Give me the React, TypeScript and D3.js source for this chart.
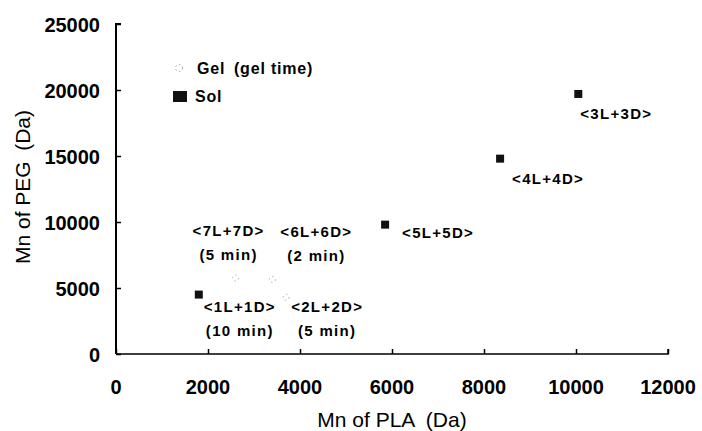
import React, { useRef, useEffect } from 'react';
import * as d3 from 'd3';

// Sol samples (black squares)
const solNames = ['<1L+1D>', '<5L+5D>', '<4L+4D>', '<3L+3D>'];
const solTimes = ['(10 min)', '', '', ''];
const solPLA = [1800, 5850, 8350, 10050];
const solPEG = [4500, 9800, 14800, 19700];

// Gel samples (faint open markers) with gel time
const gelNames = ['<7L+7D>', '<6L+6D>', '<2L+2D>'];
const gelTimes = ['(5 min)', '(2 min)', '(5 min)'];
const gelPLA = [2600, 3400, 3700];
const gelPEG = [5750, 5650, 4300];

const xTicks = [0, 2000, 4000, 6000, 8000, 10000, 12000];
const yTicks = [0, 5000, 10000, 15000, 20000, 25000];

// label centre offsets in pixels from the point (layout only)
const solLabelOffset = [
    [41, 17],
    [53, 13],
    [48, 25],
    [38, 25],
];
const gelLabelOffset = [
    [-7, -42],
    [44, -42],
    [41, 15],
];

const font = "'Liberation Sans', Arial, sans-serif";

function Chart() {
    const ref = useRef<SVGSVGElement>(null);

    useEffect(() => {
        const svg = d3.select(ref.current);
        svg.selectAll('*').remove();

        const x = d3.scaleLinear().domain([0, 12000]).range([116, 668]);
        const y = d3.scaleLinear().domain([0, 25000]).range([354, 24]);

        // y axis (ticks point inward)
        svg
            .append('g')
            .attr('transform', `translate(${x(0)},0)`)
            .call(d3.axisRight(y).tickValues(yTicks).tickSize(5).tickFormat(() => ''))
            .call(g => g.select('.domain').attr('stroke-width', 2).attr('d', `M5,${y(25000)}H0V${y(0)}`))
            .call(g => g.selectAll('.tick line').attr('stroke-width', 1.5));

        // x axis (ticks point inward)
        svg
            .append('g')
            .attr('transform', `translate(0,${y(0)})`)
            .call(d3.axisTop(x).tickValues(xTicks).tickSize(5).tickFormat(() => ''))
            .call(g => g.select('.domain').attr('stroke-width', 1.5).attr('d', `M${x(0)},0H${x(12000)}V-5`))
            .call(g => g.selectAll('.tick line').attr('stroke-width', 1.5));

        // tick labels
        svg
            .append('g')
            .selectAll('text')
            .data(yTicks)
            .join('text')
            .attr('x', 100)
            .attr('y', d => y(d) + 7.5)
            .attr('text-anchor', 'end')
            .style('font-family', font)
            .style('font-size', '20px')
            .style('font-weight', 'bold')
            .text(d => d);

        svg
            .append('g')
            .selectAll('text')
            .data(xTicks)
            .join('text')
            .attr('x', d => x(d))
            .attr('y', 394)
            .attr('text-anchor', 'middle')
            .style('font-family', font)
            .style('font-size', '20px')
            .style('font-weight', 'bold')
            .text(d => d);

        // axis titles
        svg
            .append('text')
            .attr('x', 392)
            .attr('y', 427)
            .attr('text-anchor', 'middle')
            .style('font-family', font)
            .style('font-size', '21px')
            .text('Mn of PLA\u2002(Da)');

        svg
            .append('text')
            .attr('transform', 'rotate(-90)')
            .attr('x', -187)
            .attr('y', 30)
            .attr('text-anchor', 'middle')
            .style('font-family', font)
            .style('font-size', '21px')
            .text('Mn of PEG\u2002(Da)');

        // gel points (faint)
        svg
            .append('g')
            .selectAll('circle')
            .data(gelPLA)
            .join('circle')
            .attr('cx', d => x(d))
            .attr('cy', (d, i) => y(gelPEG[i]))
            .attr('r', 3)
            .attr('fill', 'none')
            .attr('stroke', '#b0b0b0')
            .attr('stroke-width', 1)
            .attr('stroke-dasharray', '1.5,3');

        // sol points
        svg
            .append('g')
            .selectAll('rect')
            .data(solPLA)
            .join('rect')
            .attr('x', d => x(d) - 4)
            .attr('y', (d, i) => y(solPEG[i]) - 4)
            .attr('width', 8)
            .attr('height', 8)
            .attr('fill', '#111');

        const labelStyle = sel =>
            sel
                .attr('text-anchor', 'middle')
                .style('font-family', font)
                .style('font-size', '15px')
                .style('font-weight', 'bold')
                .style('letter-spacing', '1.3px');

        // sol labels
        const sl = svg
            .append('g')
            .selectAll('g')
            .data(solNames)
            .join('g')
            .attr('transform', (d, i) => `translate(${x(solPLA[i]) + solLabelOffset[i][0]},${y(solPEG[i]) + solLabelOffset[i][1]})`);
        sl.append('text').call(labelStyle).text(d => d);
        sl.append('text').attr('y', 24).call(labelStyle).text((d, i) => solTimes[i]);

        // gel labels with gel time
        const gl = svg
            .append('g')
            .selectAll('g')
            .data(gelNames)
            .join('g')
            .attr('transform', (d, i) => `translate(${x(gelPLA[i]) + gelLabelOffset[i][0]},${y(gelPEG[i]) + gelLabelOffset[i][1]})`);
        gl.append('text').call(labelStyle).text(d => d);
        gl.append('text').attr('y', 24).call(labelStyle).text((d, i) => gelTimes[i]);

        // legend
        const legend = svg.append('g');
        legend
            .append('circle')
            .attr('cx', 179)
            .attr('cy', 68)
            .attr('r', 3.5)
            .attr('fill', 'none')
            .attr('stroke', '#a0a0a0')
            .attr('stroke-dasharray', '1.5,2.5');
        legend
            .append('text')
            .attr('x', 197)
            .attr('y', 74)
            .style('font-family', font)
            .style('font-size', '16px')
            .style('font-weight', 'bold')
            .style('letter-spacing', '0.8px')
            .text('Gel\u2002(gel time)');
        legend
            .append('rect')
            .attr('x', 173)
            .attr('y', 91)
            .attr('width', 14)
            .attr('height', 11)
            .attr('fill', '#111');
        legend
            .append('text')
            .attr('x', 195)
            .attr('y', 102)
            .style('font-family', font)
            .style('font-size', '16px')
            .style('font-weight', 'bold')
            .style('letter-spacing', '0.8px')
            .text('Sol');
    }, []);

    return (
        <svg
            ref={ref}
            width={702}
            height={431}
            style={{ position: 'absolute', left: 0, top: 0, background: '#fff' }}
        />
    );
}

export default function App() {
    return <Chart />;
}
